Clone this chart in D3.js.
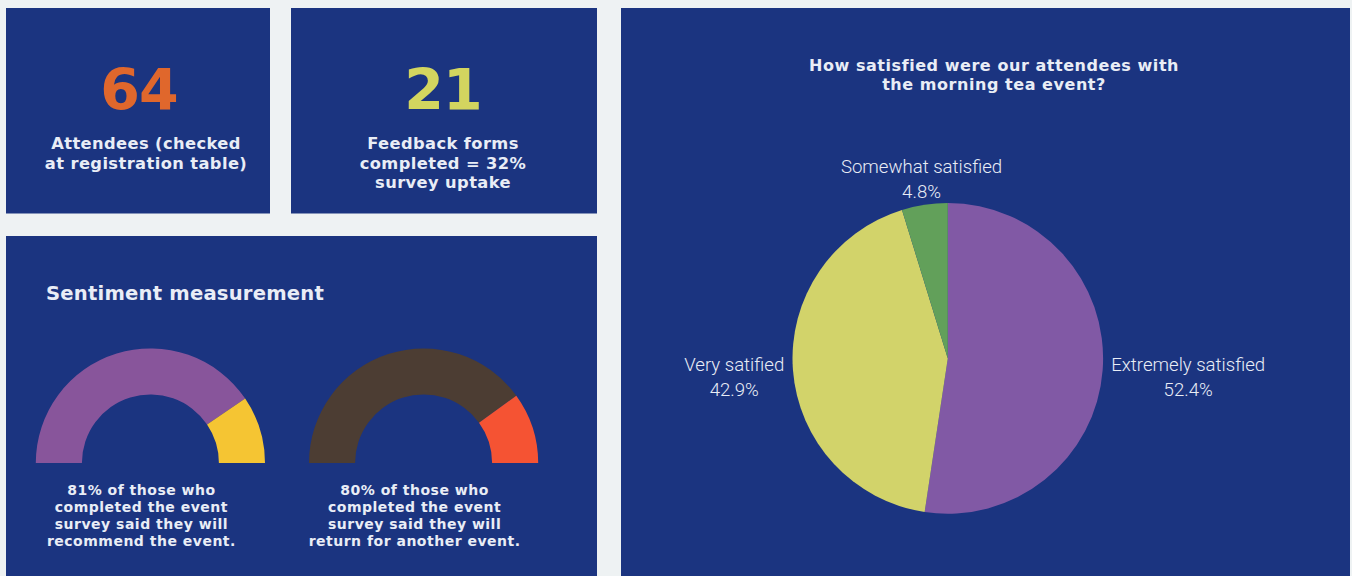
<!DOCTYPE html>
<html><head><meta charset="utf-8">
<script src="https://cdn.jsdelivr.net/npm/d3@7"></script>
<style>
html,body{margin:0;padding:0;background:#eef2f3;}
svg{display:block;}
</style></head>
<body>
<svg id="chart" width="1352" height="576"></svg>
<script>
// ---- data ----
const kpiValues = ["64", "21"];
const kpiLabels = [
  ["Attendees (checked", "at registration table)"],
  ["Feedback forms", "completed = 32%", "survey uptake"]
];
const gaugeNames = ["Recommend", "Return"];
const gaugeYes = [81, 80];
const gaugeNo = [19, 20];
const gaugeCaptions = [
  ["81% of those who", "completed the event", "survey said they will", "recommend the event."],
  ["80% of those who", "completed the event", "survey said they will", "return for another event."]
];
const pieCategories = ["Extremely satisfied", "Very satified", "Somewhat satisfied"];
const pieCounts = [11, 9, 1];
const piePercentLabels = ["52.4%", "42.9%", "4.8%"];
const pieTitle = ["How satisfied were our attendees with", "the morning tea event?"];
const sentimentTitle = "Sentiment measurement";

// ---- style ----
const PANEL = "#1b3480";
const TEXT = "#e9edf6";
const BOLD = "'DejaVu Sans', sans-serif";
const kpiColors = ["#e0672c", "#d3d55f"];
const gaugeColors = [["#88559b", "#f5c533"], ["#4c3d33", "#f55333"]];
const pieColor = d3.scaleOrdinal().domain(pieCategories).range(["#8159a5", "#d2d36a", "#62a05a"]);

const svg = d3.select("#chart");

// panels
const panels = [
  {x: 6, y: 8, w: 264, h: 205.5},
  {x: 291, y: 8, w: 306, h: 205.5},
  {x: 6, y: 236, w: 591, h: 345},
  {x: 621, y: 8, w: 729, h: 573}
];
svg.selectAll("rect.panel").data(panels).join("rect")
  .attr("class", "panel")
  .attr("x", d => d.x).attr("y", d => d.y).attr("width", d => d.w).attr("height", d => d.h)
  .attr("fill", PANEL);

// KPI cards
const kpiCenters = [{n: 139, t: 146}, {n: 443, t: 443}];
kpiValues.forEach((v, i) => {
  svg.append("text").attr("x", kpiCenters[i].n).attr("y", 110)
    .attr("text-anchor", "middle").attr("font-family", BOLD).attr("font-weight", 700)
    .attr("font-size", 57).attr("fill", kpiColors[i]).attr("letter-spacing", -1).text(v);
  kpiLabels[i].forEach((line, j) => {
    svg.append("text").attr("x", kpiCenters[i].t).attr("y", 149 + j * 19.5)
      .attr("text-anchor", "middle").attr("font-family", BOLD).attr("font-weight", 700)
      .attr("font-size", 16.3).attr("letter-spacing", 0.4).attr("fill", TEXT).text(line);
  });
});

// Sentiment
svg.append("text").attr("x", 46).attr("y", 299.5)
  .attr("font-family", BOLD).attr("font-weight", 700).attr("font-size", 19.6)
  .attr("letter-spacing", 0.2).attr("fill", TEXT).text(sentimentTitle);

const gaugePie = d3.pie().sort(null).startAngle(-Math.PI / 2).endAngle(Math.PI / 2);
const gaugeArc = d3.arc().innerRadius(68.5).outerRadius(114.6);
const gaugeX = d3.scalePoint().domain(gaugeNames).range([150.4, 423.6]);
const gaugeBaseY = 463;

gaugeNames.forEach((name, i) => {
  const g = svg.append("g").attr("transform", `translate(${gaugeX(name)},${gaugeBaseY})`);
  g.selectAll("path").data(gaugePie([gaugeYes[i], gaugeNo[i]])).join("path")
    .attr("d", gaugeArc).attr("fill", (d, k) => gaugeColors[i][k]);
  gaugeCaptions[i].forEach((line, j) => {
    svg.append("text").attr("x", gaugeX(name) - 9).attr("y", 495 + j * 17)
      .attr("text-anchor", "middle").attr("font-family", BOLD).attr("font-weight", 700)
      .attr("font-size", 14).attr("letter-spacing", 0.5).attr("fill", TEXT).text(line);
  });
});

// Pie title
pieTitle.forEach((line, j) => {
  svg.append("text").attr("x", 994).attr("y", 71 + j * 19)
    .attr("text-anchor", "middle").attr("font-family", BOLD).attr("font-weight", 700)
    .attr("font-size", 16).attr("letter-spacing", 0.55).attr("fill", TEXT).text(line);
});

// Pie
const cx = 947.8, cy = 358.4, R = 155.3;
const pie = d3.pie().sort(null);
const arc = d3.arc().innerRadius(0).outerRadius(R);
const pg = svg.append("g").attr("transform", `translate(${cx},${cy})`);
const arcs = pie(pieCounts);
pg.selectAll("path").data(arcs).join("path")
  .attr("d", arc).attr("fill", (d, i) => pieColor(pieCategories[i]));

const LABEL = "Roboto, 'Noto Sans', sans-serif";
arcs.forEach((d, i) => {
  const a = (d.startAngle + d.endAngle) / 2;
  const s = Math.sin(a), c = -Math.cos(a);
  const pr = R + 9;
  const lg = pg.append("g");
  lg.append("text").attr("text-anchor", "middle").attr("font-family", LABEL)
    .attr("font-size", 18.6).attr("font-weight", 300).attr("fill", TEXT).attr("y", 0).text(pieCategories[i]);
  lg.append("text").attr("text-anchor", "middle").attr("font-family", LABEL)
    .attr("font-size", 18.6).attr("font-weight", 300).attr("fill", TEXT).attr("y", 25).text(piePercentLabels[i]);
  const bb = lg.node().getBBox();
  const hw = bb.width / 2, hh = bb.height / 2;
  const px = pr * s, py = pr * c;
  const ox = px + s * Math.abs(s) * hw;
  const oy = py + c * Math.abs(c) * hh + 7;
  const bcx = bb.x + hw, bcy = bb.y + hh;
  lg.attr("transform", `translate(${ox - bcx},${oy - bcy})`);
});
</script>
</body></html>
